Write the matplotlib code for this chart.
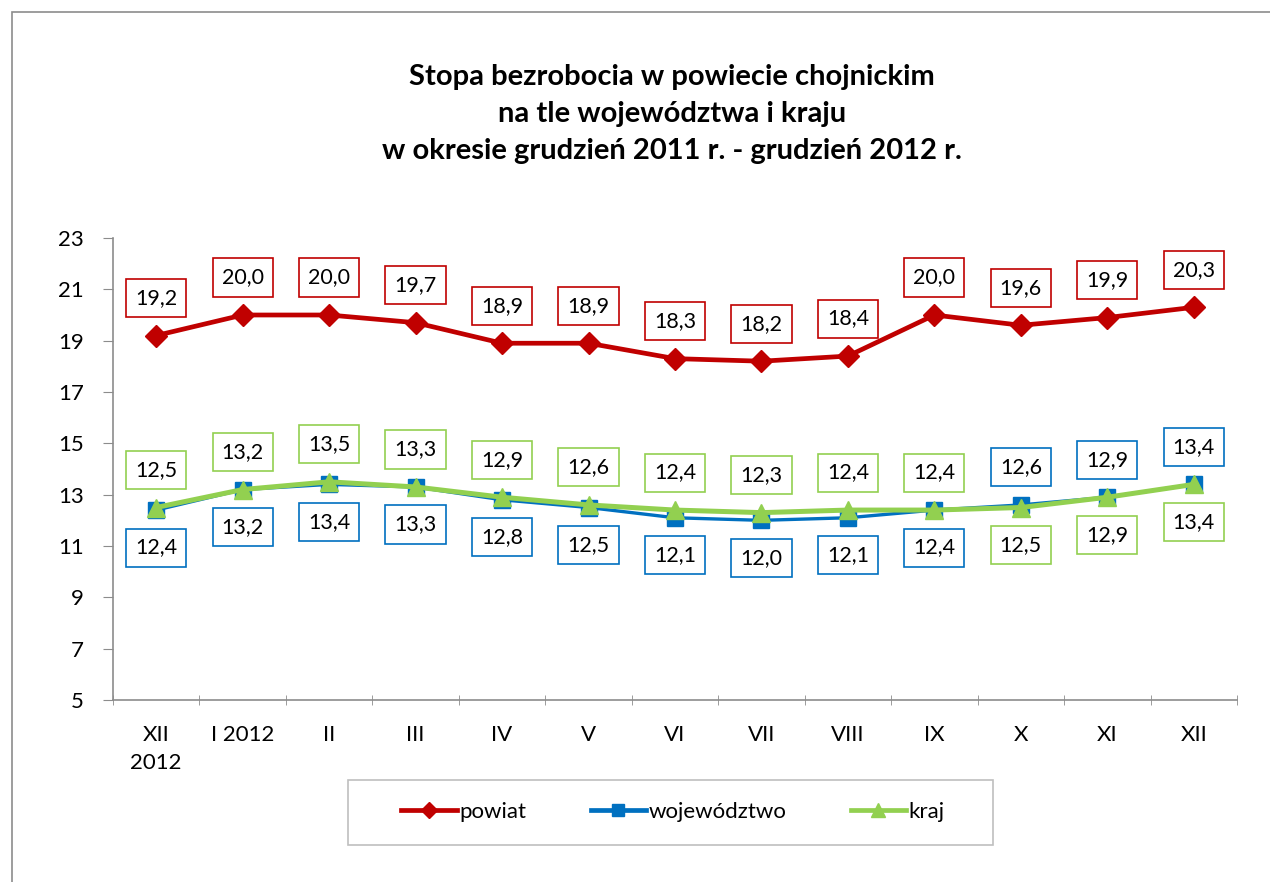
import matplotlib.pyplot as plt
from matplotlib.lines import Line2D
from matplotlib.patches import Rectangle
import numpy as np

plt.rcParams['font.family'] = ['Lato', 'DejaVu Sans']

months = ["XII\n2012", "I 2012", "II", "III", "IV", "V", "VI", "VII", "VIII", "IX", "X", "XI", "XII"]
powiat = [19.2, 20.0, 20.0, 19.7, 18.9, 18.9, 18.3, 18.2, 18.4, 20.0, 19.6, 19.9, 20.3]
wojewodztwo = [12.4, 13.2, 13.4, 13.3, 12.8, 12.5, 12.1, 12.0, 12.1, 12.4, 12.6, 12.9, 13.4]
kraj = [12.5, 13.2, 13.5, 13.3, 12.9, 12.6, 12.4, 12.3, 12.4, 12.4, 12.5, 12.9, 13.4]
# label placement: +1 above the point, -1 below
woj_side = [-1] * 10 + [1, 1, 1]
kraj_side = [1] * 10 + [-1, -1, -1]

red = '#C00000'
blue = '#0070C0'
green = '#92D050'

fig = plt.figure(figsize=(12.7, 8.82), dpi=100)
# outer chart border (only left/top visible in the crop)
fig.patches.append(Rectangle((12 / 1270, -0.1), 1.2, (882 - 12) / 882 + 0.1,
                             transform=fig.transFigure, fill=False,
                             edgecolor='#8c8c8c', linewidth=1.2))
ax = fig.add_axes([113 / 1270, 182 / 882, 1124 / 1270, 462 / 882])

x = np.arange(len(months))
ax.plot(x, powiat, color=red, lw=3.4, marker='D', ms=11, label='powiat', zorder=3)
ax.plot(x, wojewodztwo, color=blue, lw=2.4, marker='s', ms=11, label='województwo', zorder=3)
ax.plot(x, kraj, color=green, lw=3.6, marker='^', ms=13, label='kraj', zorder=4)

def box_labels(vals, sides, color):
    for xi, v, s in zip(x, vals, sides):
        ax.annotate(f"{v:.1f}".replace('.', ','), (xi, v), xytext=(0, 27 * s),
                    textcoords='offset points', ha='center', va='center',
                    fontsize=15.5, zorder=5,
                    bbox=dict(boxstyle='square,pad=0.42', fc='white', ec=color, lw=1.2))

box_labels(powiat, [1] * len(powiat), red)
box_labels(wojewodztwo, woj_side, blue)
box_labels(kraj, kraj_side, green)

ax.set_xlim(-0.5, len(months) - 0.5)
ax.set_ylim(5, 23)
ax.set_yticks(np.arange(5, 24, 2))
ax.set_xticks(x)
ax.set_xticklabels(months, fontsize=16, linespacing=1.5)
ax.set_xticks(np.arange(-0.5, len(months)), minor=True)
ax.tick_params(axis='x', which='major', length=0, pad=18)
ax.tick_params(axis='x', which='minor', length=7, color='#8c8c8c', direction='inout')
ax.tick_params(axis='y', length=7, color='#8c8c8c', labelsize=16, pad=14)
for side in ['top', 'right']:
    ax.spines[side].set_visible(False)
for side in ['left', 'bottom']:
    ax.spines[side].set_color('#8c8c8c')
    ax.spines[side].set_linewidth(1.2)

fig.text(672 / 1270, 1 - 114 / 882,
         "Stopa bezrobocia w powiecie chojnickim\nna tle województwa i kraju\nw okresie grudzień 2011 r. - grudzień 2012 r.",
         ha='center', va='center', fontsize=21, fontweight='bold', linespacing=1.52)

# legend box drawn separately to get Excel-like side padding
fig.patches.append(Rectangle((348 / 1270, 1 - 845 / 882), 645 / 1270, 65 / 882,
                             transform=fig.transFigure, fill=False,
                             edgecolor='#bfbfbf', linewidth=1.2))
handles = [Line2D([], [], color=red, lw=3.4, marker='D', ms=8),
           Line2D([], [], color=blue, lw=3.4, marker='s', ms=9),
           Line2D([], [], color=green, lw=3.4, marker='^', ms=10)]
fig.legend(handles, ['powiat', 'województwo', 'kraj'], loc='center',
           bbox_to_anchor=(673 / 1270, 1 - 812 / 882), ncol=3, fontsize=16,
           frameon=False, handlelength=2.5, handletextpad=0.1, columnspacing=2.9,
           borderaxespad=0)

plt.savefig("out.png", dpi=100)
